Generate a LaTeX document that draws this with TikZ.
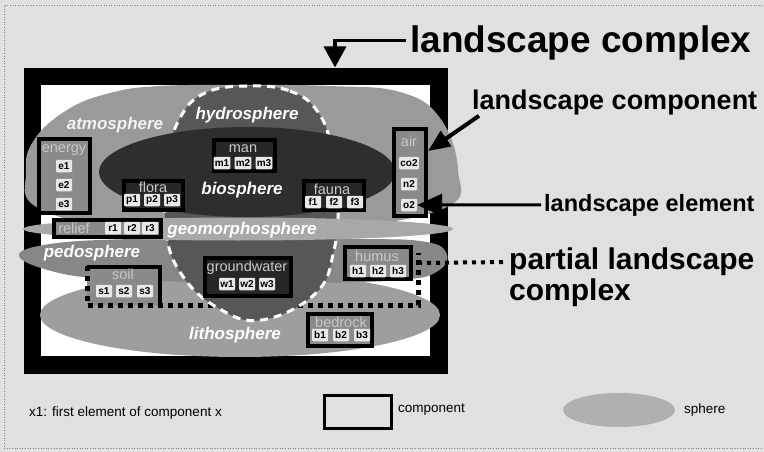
\documentclass[tikz,border=0pt]{standalone}
\usepackage{fontspec}
\setmainfont{Liberation Sans}
\usetikzlibrary{arrows.meta,shapes.geometric}

\definecolor{paper}{HTML}{E0E0E0}
\definecolor{atmo}{HTML}{9A9A9A}
\definecolor{hydro}{HTML}{575757}
\definecolor{bio}{HTML}{2E2E2E}
\definecolor{geomorph}{HTML}{A8A8A8}
\definecolor{pedo}{HTML}{878787}
\definecolor{litho}{HTML}{9E9E9E}
\definecolor{compdark}{HTML}{262626}
\definecolor{complight}{HTML}{8A8A8A}
\definecolor{namegray}{HTML}{C8C8C8}
\definecolor{elemfill}{HTML}{E8E8E8}
\definecolor{legsphere}{HTML}{B0B0B0}

\begin{document}
\begin{tikzpicture}[
    x=1pt, y=-1pt,
    comp/.style={draw=black, line width=4pt, inner sep=0pt},
    elem/.style={fill=elemfill, rounded corners=1pt, inner sep=1.2pt,
        minimum width=16pt, minimum height=12.5pt,
        font=\fontsize{10}{10}\selectfont\bfseries},
    compname/.style={text=namegray, inner sep=0pt, font=\fontsize{14.5}{15}\selectfont},
    spherename/.style={text=white, inner sep=0pt, font=\fontsize{17}{17}\selectfont\bfseries\itshape},
    legend/.style={inner sep=0pt, font=\fontsize{13.5}{14}\selectfont},
    rim/.style={draw=white, line width=3pt, dash pattern=on 8pt off 6pt},
    partial/.style={line width=5pt, dash pattern=on 5pt off 5pt},
]
    % page
    \useasboundingbox (0,0) rectangle (764,452);
    \fill[paper] (0,0) rectangle (764,452);
    \draw[gray, dotted, line width=0.6pt] (762,5) -- (4,5) -- (4,448) -- (762,448);

    % landscape complex (frame)
    \node[draw, fill=white, line width=17.5pt, inner sep=0pt,
          minimum width=406.5pt, minimum height=288.5pt] (complex) at (235.75,220.75) {};

    % spheres
    \fill[atmo] plot[smooth cycle, tension=0.7] coordinates {(26,172) (34,140) (67,110) (110,93)
        (160,86) (243,85) (330,86) (400,92) (440,118) (458,170) (445,208) (330,230) (243,234)
        (130,230) (38,208)};
    \fill[litho] (240,315) ellipse [x radius=200, y radius=42];
    \fill[pedo] plot[smooth cycle, tension=0.7] coordinates {(19,256) (50,244) (130,239) (240,238)
        (350,239) (420,241) (446,252) (438,271) (400,280) (300,283) (200,282) (110,279) (55,272)};

    % soil sits under the partial complex line
    \node[fill=complight, inner sep=0pt, minimum width=73pt, minimum height=38pt] (soil) at (123.5,286) {};

    % partial landscape complex
    \draw[partial] (87,266) -- (87,305) -- (418,305) -- (418,253);
    \coordinate (partialEnd) at (418,263);

    \filldraw[rim, fill=hydro] plot[smooth cycle, tension=0.7] coordinates {(247,86) (290,91)
        (318,112) (332,150) (338,200) (334,250) (316,293) (262,320) (218,308) (182,275)
        (166,230) (168,160) (180,118) (205,93)};
    \fill[bio] (247,172) ellipse [x radius=148, y radius=45];
    \fill[geomorph] (238,229) ellipse [x radius=215, y radius=11.5];

    % sphere names
    \node[spherename, text=white!90!gray] (atmoName) at (115,125) {atmosphere};
    \node[spherename] (hydroName) at (247,115) {hydrosphere};
    \node[spherename] (bioName) at (242,190) {biosphere};
    \node[spherename] (geoName) at (242,230) {geomorphosphere};
    \node[spherename] (pedoName) at (92,253) {pedosphere};
    \node[spherename] (lithoName) at (235,335) {lithosphere};

    % components
    \node[comp, fill=complight, minimum width=51pt, minimum height=74pt] (energy) at (64.5,176) {};
    \node[comp, fill=compdark, minimum width=61pt, minimum height=31pt] (man) at (244.5,155.5) {};
    \node[comp, fill=compdark, minimum width=59pt, minimum height=29pt] (flora) at (153.5,195.5) {};
    \node[comp, fill=compdark, minimum width=60pt, minimum height=29pt] (fauna) at (334,195.5) {};
    \node[comp, fill=complight, minimum width=32pt, minimum height=87pt] (air) at (410,172.5) {};
    \node[comp, fill=complight, minimum width=107pt, minimum height=17pt] (relief) at (107.5,228.5) {};
    \node[comp, fill=compdark, minimum width=86pt, minimum height=38pt] (groundwater) at (248,277) {};
    \node[comp, fill=complight, minimum width=66pt, minimum height=32pt] (humus) at (378,263) {};
    \node[comp, fill=complight, minimum width=64pt, minimum height=32pt] (bedrock) at (340,330) {};
    \draw[line width=4pt] (soil.south east) |- (soil.north west);

    % component names
    \node[compname] (energyName) at (64,150) {energy};
    \node[compname] (manName) at (243,149) {man};
    \node[compname] (floraName) at (153,187) {flora};
    \node[compname] (faunaName) at (332,189) {fauna};
    \node[compname] (airName) at (409,141) {air};
    \node[compname] (reliefName) at (74,228) {relief};
    \node[compname] (soilName) at (123,274) {soil};
    \node[compname] (gwName) at (247,268) {groundwater};
    \node[compname] (humusName) at (377,256) {humus};
    \node[compname] (bedrockName) at (341,322) {bedrock};

    % elements
    \node[elem] (e1) at (64,166) {e1};
    \node[elem] (e2) at (64,185) {e2};
    \node[elem] (e3) at (64,204) {e3};
    \node[elem] (m1) at (222,163) {m1};
    \node[elem] (m2) at (243,163) {m2};
    \node[elem] (m3) at (264,163) {m3};
    \node[elem] (p1) at (132,200) {p1};
    \node[elem] (p2) at (152,200) {p2};
    \node[elem] (p3) at (172,200) {p3};
    \node[elem] (f1) at (313,202) {f1};
    \node[elem] (f2) at (334,202) {f2};
    \node[elem] (f3) at (355,202) {f3};
    \node[elem] (co2) at (409,163) {co2};
    \node[elem] (n2) at (409,184) {n2};
    \node[elem] (o2) at (409,205) {o2};
    \node[elem] (r1) at (113,228) {r1};
    \node[elem] (r2) at (132,228) {r2};
    \node[elem] (r3) at (150,228) {r3};
    \node[elem] (s1) at (104,291) {s1};
    \node[elem] (s2) at (124,291) {s2};
    \node[elem] (s3) at (145,291) {s3};
    \node[elem] (w1) at (227,284) {w1};
    \node[elem] (w2) at (247,284) {w2};
    \node[elem] (w3) at (267,284) {w3};
    \node[elem] (h1) at (358,271) {h1};
    \node[elem] (h2) at (378,271) {h2};
    \node[elem] (h3) at (398,271) {h3};
    \node[elem] (b1) at (320,335) {b1};
    \node[elem] (b2) at (341,335) {b2};
    \node[elem] (b3) at (362,335) {b3};

    % notes on the right
    \node[anchor=base west, inner sep=0pt, font=\fontsize{37}{37}\selectfont\bfseries] (complexTxt) at (410,53) {landscape complex};
    \node[anchor=base west, inner sep=0pt, font=\fontsize{27}{27}\selectfont\bfseries] (componentTxt) at (472,110) {landscape component};
    \node[anchor=base west, inner sep=0pt, font=\fontsize{23.5}{24}\selectfont\bfseries] (elementTxt) at (544,211) {landscape element};
    \node[anchor=north west, align=left, inner sep=0pt, font=\fontsize{30}{31}\selectfont\bfseries] (partialTxt) at (509,248) {partial landscape\\complex};

    \coordinate (complexTop) at (335,67.5);
    \draw[line width=3.5pt, -{Triangle[length=21pt, width=22pt]}] ([shift={(-4pt,3pt)}]complexTxt.west) -| (complexTop);
    \draw[line width=4pt, -{Triangle[length=22pt, width=18pt]}] ([xshift=7pt]componentTxt.south west) -- (air.50);
    \draw[line width=3pt, -{Triangle[length=25pt, width=22pt]}] ([xshift=-3pt]elementTxt.west) -- (o2.east);
    \draw[line width=4pt, dash pattern=on 4pt off 5pt] (partialEnd) -- ([shift={(-2pt,-14pt)}]partialTxt.north west);

    % legend
    \node[legend, anchor=west] (legendTxt) at (29,413) {x1: first element of component x};
    \node[draw, line width=3.5pt, inner sep=0pt, minimum width=67pt, minimum height=33pt] (legComp) at (358,412) {};
    \node[legend, anchor=west] (legCompTxt) at (398,410) {component};
    \node[ellipse, fill=legsphere, inner sep=0pt, minimum width=112pt, minimum height=34pt] (legSphere) at (619,410) {};
    \node[legend, anchor=west] (legSphereTxt) at (684,410) {sphere};
\end{tikzpicture}
\end{document}
